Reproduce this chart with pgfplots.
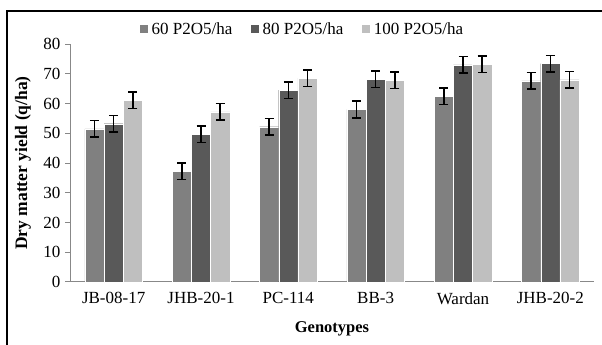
\documentclass[border=0pt]{standalone}
\usepackage{fontspec}
\setmainfont{Liberation Serif}
\usepackage{pgfplots}
\pgfplotsset{compat=1.18}
\definecolor{cA}{HTML}{808080}
\definecolor{cB}{HTML}{595959}
\definecolor{cC}{HTML}{BFBFBF}
\definecolor{axisgray}{HTML}{888888}
\pgfplotsset{eb/.style={error bars/y dir=both, error bars/y explicit,
  error bars/error bar style={black, line width=1.6pt},
  error bars/error mark options={rotate=90, mark size=4.5pt, line width=1.6pt, black}}}
\begin{document}
\begin{tikzpicture}[x=1pt,y=1pt]
\useasboundingbox (0,0) rectangle (602,345);
\draw[black, line width=2.2pt] (7,-10) -- (7,334) -- (612,334);
\begin{axis}[
  at={(70pt,63pt)}, anchor=south west,
  scale only axis, width=524pt, height=238pt,
  xmin=-0.5, xmax=5.5, ymin=0, ymax=80,
  axis x line=bottom, axis y line=left,
  axis line style={-, draw=axisgray, line width=1pt},
  ytick={0,10,...,80},
  xtick={0,...,5},
  xticklabels={JB-08-17,JHB-20-1,PC-114,BB-3,Wardan,JHB-20-2},
  x tick style={draw=none},
  extra x ticks={-0.5,0.5,...,5.5},
  extra x tick labels={},
  extra x tick style={tick style={draw=axisgray, line width=1pt}, major tick length=5pt},
  tick align=outside,
  major tick length=5pt,
  y tick style={draw=axisgray, line width=1pt},
  ticklabel style={font=\fontsize{17}{20}\selectfont},
  /pgf/number format/assume math mode=true,
  yticklabel style={xshift=-1pt},
  xticklabel style={yshift=-2pt},
  xlabel={\textbf{Genotypes}},
  ylabel={\textbf{Dry matter yield (q/ha)}},
  xlabel style={font=\fontsize{16.5}{19}\selectfont, at={(axis description cs:0.5,-0.197)}, anchor=center},
  ylabel style={font=\fontsize{17.5}{20}\selectfont, at={(axis description cs:-0.09,0.5)}, anchor=center, rotate=0},
  ybar, bar width=0.22,
  legend columns=3,
  legend style={draw=none, fill=none, at={(axis description cs:0.443,1.063)}, anchor=center,
    font=\fontsize{17}{20}\selectfont,
    /tikz/every even column/.append style={column sep=16pt},
    /tikz/every odd column/.append style={column sep=1pt}},
  legend image code/.code={\fill[#1] (0pt,-4.5pt) rectangle (9pt,4.5pt);},
]
\addplot[fill=cA, draw=white, line width=0.4pt, bar shift=-0.22, eb] coordinates {
  (0,51.5) +- (0,2.8) (1,37.3) +- (0,2.8) (2,52.2) +- (0,2.8)
  (3,58.0) +- (0,2.8) (4,62.5) +- (0,2.8) (5,67.6) +- (0,2.8)};
\addplot[fill=cB, draw=white, line width=0.4pt, bar shift=0, eb] coordinates {
  (0,53.2) +- (0,2.8) (1,49.7) +- (0,2.8) (2,64.5) +- (0,2.8)
  (3,68.2) +- (0,2.8) (4,73.0) +- (0,2.8) (5,73.4) +- (0,2.8)};
\addplot[fill=cC, draw=white, line width=0.4pt, bar shift=0.22, eb] coordinates {
  (0,61.1) +- (0,2.8) (1,57.2) +- (0,2.8) (2,68.5) +- (0,2.8)
  (3,67.8) +- (0,2.8) (4,73.2) +- (0,2.8) (5,68.0) +- (0,2.8)};
\legend{60 P2O5/ha, 80 P2O5/ha, 100 P2O5/ha}
\end{axis}
\end{tikzpicture}
\end{document}
